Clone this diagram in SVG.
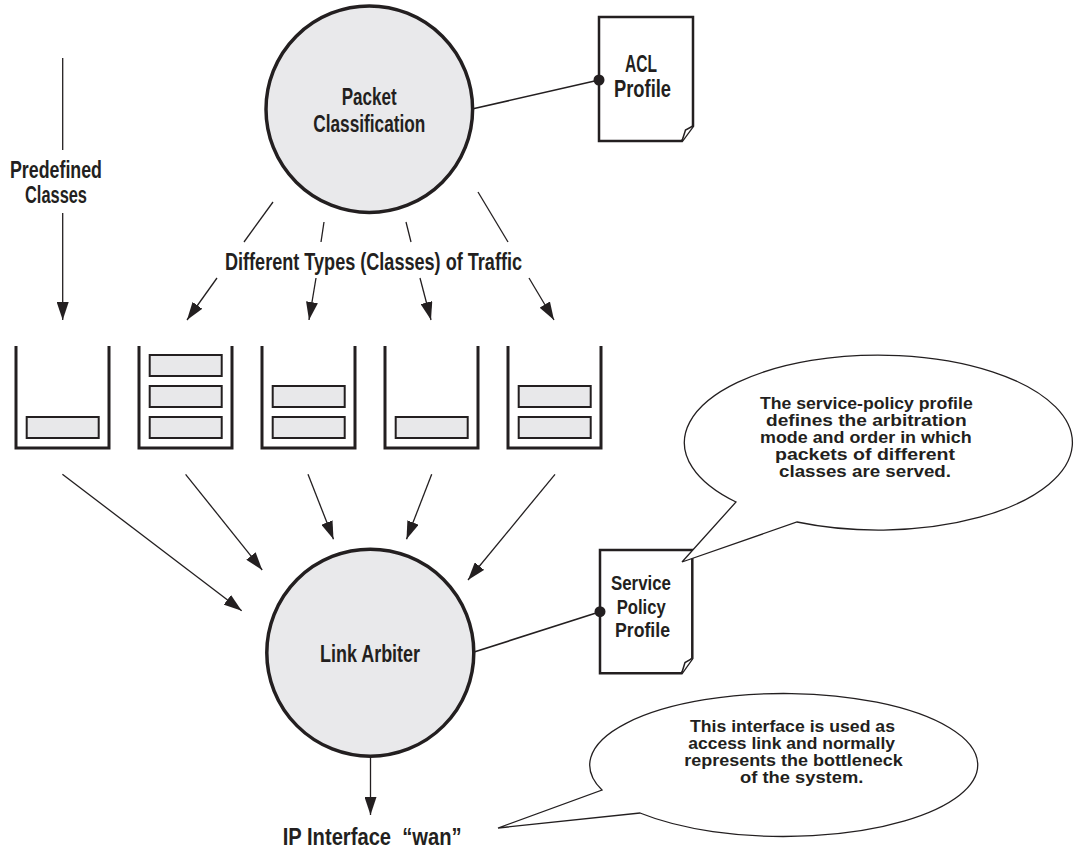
<svg xmlns="http://www.w3.org/2000/svg" width="1074" height="849" viewBox="0 0 1074 849">
<style>
.t{font-family:"Liberation Sans",Arial,sans-serif;font-weight:bold;fill:#231f20}
.n{font-size:23px}
.s{font-size:20.5px}
.b1{font-size:16.5px}
.b2{font-size:16.5px}
.circ{fill:#e9e9eb;stroke:#231f20;stroke-width:3.5}
.doc{fill:#fff;stroke:#231f20;stroke-width:2.5;stroke-linejoin:miter}
.fold{fill:#fff;stroke:#231f20;stroke-width:1.5}
.q{fill:none;stroke:#231f20;stroke-width:3;stroke-linejoin:miter}
.it{fill:#e8e8ea;stroke:#231f20;stroke-width:2}
.c{fill:none;stroke:#231f20;stroke-width:1.3}
.c2{fill:none;stroke:#231f20;stroke-width:1.6}
.dot{fill:#231f20}
.bub{fill:#fff;stroke:#231f20;stroke-width:1.3;stroke-linejoin:miter}
</style>
<defs>
<marker id="ah" markerUnits="userSpaceOnUse" markerWidth="18" markerHeight="12" viewBox="0 0 18 12" refX="18" refY="6" orient="auto"><path d="M0,0 L18,6 L0,12 Z" fill="#231f20"/></marker>
</defs>
<rect width="1074" height="849" fill="#fff"/>

<g id="connectors">
  <line class="c" x1="62.7" y1="58" x2="62.7" y2="150"/>
  <line class="c" x1="62.7" y1="213" x2="62.7" y2="320" marker-end="url(#ah)"/>
  <line class="c" x1="273" y1="202" x2="244" y2="242"/>
  <line class="c" x1="217" y1="278" x2="187" y2="320" marker-end="url(#ah)"/>
  <line class="c" x1="324" y1="222" x2="321" y2="242"/>
  <line class="c" x1="316" y1="278" x2="309" y2="320" marker-end="url(#ah)"/>
  <line class="c" x1="406" y1="222" x2="411" y2="242"/>
  <line class="c" x1="420" y1="278" x2="431" y2="320" marker-end="url(#ah)"/>
  <line class="c" x1="478" y1="192" x2="508" y2="242"/>
  <line class="c" x1="529" y1="278" x2="554" y2="320" marker-end="url(#ah)"/>
  <line class="c" x1="62.4" y1="474.3" x2="241.7" y2="610.7" marker-end="url(#ah)"/>
  <line class="c" x1="185.6" y1="474.3" x2="262.2" y2="570" marker-end="url(#ah)"/>
  <line class="c" x1="308" y1="474.3" x2="333.5" y2="539.3" marker-end="url(#ah)"/>
  <line class="c" x1="431.7" y1="474.3" x2="406.5" y2="539.3" marker-end="url(#ah)"/>
  <line class="c" x1="555" y1="474.3" x2="468" y2="580" marker-end="url(#ah)"/>
  <line class="c" x1="370.5" y1="756" x2="370.5" y2="815" marker-end="url(#ah)"/>
  <line class="c2" x1="472" y1="109" x2="599" y2="80"/>
  <line class="c2" x1="473.3" y1="652.3" x2="600" y2="611.7"/>
</g>

<g id="packet-classification">
  <circle class="circ" cx="369.3" cy="109.2" r="103.3"/>
  <text class="t n" x="341.7" y="105" textLength="55" lengthAdjust="spacingAndGlyphs">Packet</text>
  <text class="t n" x="313.3" y="132" textLength="112" lengthAdjust="spacingAndGlyphs">Classification</text>
</g>

<g id="acl-profile">
  <path class="doc" d="M599,17 H693 V126 L682,141 H599 Z"/>
  <path class="fold" d="M693,126 L685.5,130 L682,141"/>
  <circle class="dot" cx="599" cy="80" r="5.5"/>
  <text class="t n" x="625" y="72" textLength="32" lengthAdjust="spacingAndGlyphs">ACL</text>
  <text class="t n" x="614" y="97" textLength="57" lengthAdjust="spacingAndGlyphs">Profile</text>
</g>

<g id="predefined-classes">
  <text class="t n" x="10" y="178" textLength="92" lengthAdjust="spacingAndGlyphs">Predefined</text>
  <text class="t n" x="25" y="203" textLength="62" lengthAdjust="spacingAndGlyphs">Classes</text>
</g>

<g id="traffic-label">
  <text class="t n" x="225" y="270" textLength="297" lengthAdjust="spacingAndGlyphs">Different Types (Classes) of Traffic</text>
</g>

<g id="queue-1">
  <path class="q" d="M16,346 V448 H109 V346"/>
  <rect class="it" x="26.7" y="417" width="72" height="21"/>
</g>
<g id="queue-2">
  <path class="q" d="M139,346 V448 H232 V346"/>
  <rect class="it" x="149.7" y="355" width="72" height="21"/>
  <rect class="it" x="149.7" y="386" width="72" height="21"/>
  <rect class="it" x="149.7" y="417" width="72" height="21"/>
</g>
<g id="queue-3">
  <path class="q" d="M262,346 V448 H355 V346"/>
  <rect class="it" x="272.7" y="386" width="72" height="21"/>
  <rect class="it" x="272.7" y="417" width="72" height="21"/>
</g>
<g id="queue-4">
  <path class="q" d="M385,346 V448 H478 V346"/>
  <rect class="it" x="395.7" y="417" width="72" height="21"/>
</g>
<g id="queue-5">
  <path class="q" d="M508,346 V448 H601 V346"/>
  <rect class="it" x="518.7" y="386" width="72" height="21"/>
  <rect class="it" x="518.7" y="417" width="72" height="21"/>
</g>

<g id="link-arbiter">
  <circle class="circ" cx="370.3" cy="652.7" r="103.5"/>
  <text class="t n" x="320" y="662" textLength="100" lengthAdjust="spacingAndGlyphs">Link Arbiter</text>
</g>

<g id="service-policy-profile">
  <path class="doc" d="M600,550 H692.3 V658.3 L681.7,673.3 H600 Z"/>
  <path class="fold" d="M692.3,658.3 L685,662.5 L681.7,673.3"/>
  <circle class="dot" cx="600" cy="611.7" r="5.5"/>
  <text class="t s" x="611" y="590" textLength="60" lengthAdjust="spacingAndGlyphs">Service</text>
  <text class="t s" x="616.7" y="613.5" textLength="49" lengthAdjust="spacingAndGlyphs">Policy</text>
  <text class="t s" x="615" y="637" textLength="55" lengthAdjust="spacingAndGlyphs">Profile</text>
</g>

<g id="ip-interface">
  <text class="t n" x="282.7" y="845" textLength="179" lengthAdjust="spacingAndGlyphs" xml:space="preserve">IP Interface  “wan”</text>
</g>

<g id="note-service-policy">
  <path class="bub" d="M797,522 A194,87.5 0 1 0 736,502 L682,562 Z"/>
  <text class="t b1" x="760" y="408.5" textLength="212.7" lengthAdjust="spacingAndGlyphs">The service-policy profile</text>
  <text class="t b1" x="766" y="425.5" textLength="200.7" lengthAdjust="spacingAndGlyphs">defines the arbitration</text>
  <text class="t b1" x="760" y="442.5" textLength="211.7" lengthAdjust="spacingAndGlyphs">mode and order in which</text>
  <text class="t b1" x="775" y="459.5" textLength="180" lengthAdjust="spacingAndGlyphs">packets of different</text>
  <text class="t b1" x="779" y="476.5" textLength="172" lengthAdjust="spacingAndGlyphs">classes are served.</text>
</g>

<g id="note-interface">
  <path class="bub" d="M640,813 A194,71.5 0 1 0 602,790 L498,828 Z"/>
  <text class="t b2" x="690" y="732" textLength="205" lengthAdjust="spacingAndGlyphs">This interface is used as</text>
  <text class="t b2" x="688.3" y="749" textLength="206.7" lengthAdjust="spacingAndGlyphs">access link and normally</text>
  <text class="t b2" x="684.3" y="766" textLength="218.4" lengthAdjust="spacingAndGlyphs">represents the bottleneck</text>
  <text class="t b2" x="740" y="783" textLength="123.3" lengthAdjust="spacingAndGlyphs">of the system.</text>
</g>
</svg>
